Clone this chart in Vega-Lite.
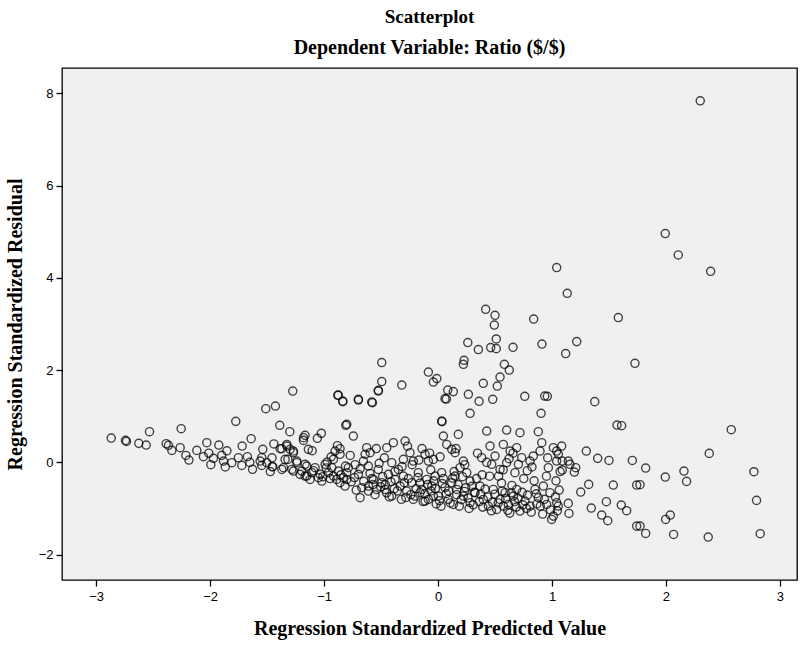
{
"$schema": "https://vega.github.io/schema/vega-lite/v6.json",
"autosize": {"type": "none"},
"padding": {"left": 62, "top": 68, "right": 10, "bottom": 68},
"width": 735,
"height": 512,
"background": "white",
"title": {"text": "Scatterplot", "subtitle": "Dependent Variable: Ratio ($/$)", "anchor": "middle", "font": "Liberation Serif", "fontSize": 19, "fontWeight": "bold", "color": "#000", "subtitleFont": "Liberation Serif", "subtitleFontSize": 20, "subtitleFontWeight": "bold", "subtitleColor": "#000", "subtitlePadding": 11, "offset": 10},
"config": {"view": {"fill": "#f0f0f0", "stroke": "#000", "strokeWidth": 1.3}},
"data": {"values": [
{"x":2.301,"y":7.838},{"x":1.994,"y":4.961},{"x":2.108,"y":4.497},{"x":2.392,"y":4.143},{"x":1.041,"y":4.223},{"x":1.134,"y":3.666},
{"x":0.418,"y":3.319},{"x":0.5,"y":3.189},{"x":0.494,"y":2.978},{"x":0.839,"y":3.108},{"x":1.582,"y":3.139},{"x":0.511,"y":2.675},
{"x":0.261,"y":2.597},{"x":0.354,"y":2.445},{"x":0.462,"y":2.488},{"x":0.511,"y":2.466},{"x":0.658,"y":2.495},{"x":0.912,"y":2.566},
{"x":1.217,"y":2.618},{"x":1.12,"y":2.358},{"x":1.728,"y":2.148},{"x":0.228,"y":2.213},{"x":0.222,"y":2.126},{"x":0.582,"y":2.126},
{"x":0.625,"y":2.002},{"x":0.544,"y":1.85},{"x":0.52,"y":1.655},{"x":0.397,"y":1.714},{"x":-0.085,"y":1.959},{"x":-0.011,"y":1.816},
{"x":-0.041,"y":1.742},{"x":0.085,"y":1.568},{"x":0.134,"y":1.534},{"x":0.073,"y":1.373},{"x":0.266,"y":1.475},{"x":0.36,"y":1.323},
{"x":0.48,"y":1.367},{"x":0.761,"y":1.432},{"x":0.936,"y":1.438},{"x":0.959,"y":1.432},{"x":1.375,"y":1.317},{"x":-0.318,"y":1.677},
{"x":-0.494,"y":2.163},{"x":-0.494,"y":1.751},{"x":-0.524,"y":1.562},{"x":0.032,"y":0.896},{"x":-0.875,"y":1.46},{"x":-0.836,"y":1.33},
{"x":-0.699,"y":1.367},{"x":-0.582,"y":1.308},{"x":-0.801,"y":0.824},
{"x":2.573,"y":0.709},{"x":2.38,"y":0.195},{"x":1.822,"y":-0.123},{"x":1.994,"y":-0.318},{"x":2.158,"y":-0.188},{"x":2.181,"y":-0.412},
{"x":2.772,"y":-0.203},{"x":2.795,"y":-0.824},{"x":1.772,"y":-0.484},{"x":2.038,"y":-1.143},{"x":1.997,"y":-1.236},{"x":1.822,"y":-1.54},
{"x":2.067,"y":-1.562},{"x":2.371,"y":-1.619},{"x":2.827,"y":-1.547},{"x":1.772,"y":-1.38},
{"x":1.57,"y":0.81},{"x":1.611,"y":0.795},{"x":1.085,"y":0.354},{"x":1.041,"y":0.245},{"x":1.301,"y":0.245},{"x":1.401,"y":0.087},
{"x":1.5,"y":0.043},{"x":1.705,"y":0.043},{"x":1.143,"y":0.028},{"x":1.09,"y":0.03},{"x":1.158,"y":-0.043},{"x":1.208,"y":-0.115},
{"x":1.196,"y":-0.21},{"x":1.09,"y":-0.167},{"x":1.322,"y":-0.477},{"x":1.252,"y":-0.644},{"x":1.538,"y":-0.492},{"x":1.743,"y":-0.492},
{"x":1.477,"y":-0.853},{"x":1.608,"y":-0.926},{"x":1.655,"y":-1.048},{"x":1.345,"y":-0.991},{"x":1.436,"y":-1.143},{"x":1.489,"y":-1.265},
{"x":1.143,"y":-0.889},{"x":1.149,"y":-1.106},{"x":1.055,"y":-0.948},{"x":1.743,"y":-1.382},{"x":1.035,"y":-0.4},{"x":1.03,"y":-0.75},
{"x":-2.868,"y":0.527},{"x":-2.743,"y":0.477},{"x":-2.734,"y":0.455},{"x":-2.626,"y":0.412},{"x":-2.561,"y":0.375},{"x":-2.532,"y":0.666},
{"x":-2.386,"y":0.405},{"x":-2.366,"y":0.369},{"x":-2.336,"y":0.26},{"x":-2.263,"y":0.318},{"x":-2.254,"y":0.731},{"x":-2.117,"y":0.26},
{"x":-2.059,"y":0.123},{"x":-2.029,"y":0.427},{"x":-1.971,"y":0.087},{"x":-1.924,"y":0.375},{"x":-1.898,"y":0.152},{"x":-1.883,"y":0.028},
{"x":-1.81,"y":-0.007},{"x":-1.775,"y":0.889},{"x":-1.752,"y":0.102},{"x":-1.719,"y":0.354},{"x":-1.722,"y":-0.065},{"x":-1.673,"y":0.123},
{"x":-1.64,"y":0.514},{"x":-1.538,"y":0.282},{"x":-1.561,"y":0.028},{"x":-1.547,"y":-0.065},{"x":-1.503,"y":-0.007},{"x":-1.512,"y":1.165},
{"x":-1.427,"y":1.221},{"x":-1.275,"y":1.547},{"x":-1.389,"y":0.803},{"x":-1.301,"y":0.666},{"x":-1.456,"y":-0.094},{"x":-1.386,"y":0.297},
{"x":-1.327,"y":0.354},{"x":-1.318,"y":0.065},{"x":-1.269,"y":0.245},{"x":-1.239,"y":0.028},{"x":-1.371,"y":-0.152},{"x":-1.269,"y":-0.188},
{"x":-1.211,"y":-0.26},{"x":-1.152,"y":-0.297},{"x":-1.181,"y":0.536},{"x":-1.167,"y":-0.043},{"x":-1.138,"y":0.282},
{"x":-0.88,"y":1.453},{"x":-0.836,"y":1.317},{"x":-0.81,"y":0.803},{"x":-1.167,"y":0.586},{"x":-1.181,"y":0.477},{"x":-1.059,"y":0.521},
{"x":-1.024,"y":0.629},{"x":-1.105,"y":0.253},{"x":-0.883,"y":0.362},{"x":-0.904,"y":0.245},{"x":-0.86,"y":0.297},{"x":-1.547,"y":0.102},
{"x":-1.45,"y":-0.094},{"x":-1.371,"y":0.297},{"x":-1.327,"y":0.39},{"x":-1.298,"y":0.282},{"x":-1.269,"y":0.21},{"x":-1.342,"y":0.065},
{"x":-1.357,"y":-0.115},{"x":-1.283,"y":-0.152},{"x":-1.239,"y":-0.007},{"x":-1.196,"y":-0.188},{"x":-1.152,"y":-0.079},{"x":-1.167,"y":-0.297},
{"x":-1.108,"y":-0.224},{"x":-1.123,"y":-0.369},{"x":-1.079,"y":-0.115},{"x":-1.05,"y":-0.332},{"x":-1.02,"y":-0.405},{"x":-1.035,"y":-0.26},
{"x":-0.991,"y":-0.043},{"x":-0.962,"y":-0.224},{"x":-0.932,"y":-0.115},{"x":-0.918,"y":-0.297},{"x":-0.875,"y":-0.188},{"x":-0.889,"y":-0.369},
{"x":-0.86,"y":-0.441},{"x":-0.831,"y":-0.332},{"x":-0.816,"y":-0.513},{"x":-0.801,"y":-0.224},{"x":-0.918,"y":0.065},{"x":-0.86,"y":0.174},
{"x":-0.699,"y":1.351},{"x":-0.576,"y":1.295},{"x":-0.743,"y":0.571},{"x":-0.524,"y":1.547},{"x":0.035,"y":0.883},{"x":0.061,"y":1.382},
{"x":0.047,"y":0.571},{"x":0.076,"y":0.39},{"x":0.12,"y":0.282},{"x":0.149,"y":0.21},
{"x":-0.626,"y":0.318},{"x":-0.596,"y":0.21},{"x":-0.64,"y":0.174},{"x":-0.655,"y":0.028},{"x":-0.611,"y":-0.079},
{"x":-0.45,"y":0.318},{"x":-0.392,"y":0.427},{"x":-0.289,"y":0.462},{"x":-0.406,"y":-0.007},{"x":-0.348,"y":-0.152},{"x":-0.246,"y":0.21},
{"x":-0.304,"y":0.065},{"x":-0.217,"y":0.028},{"x":-0.114,"y":0.174},{"x":-0.085,"y":0.028},{"x":-0.041,"y":0.065},
{"x":-0.787,"y":-0.115},{"x":-0.801,"y":-0.369},{"x":-0.699,"y":-0.26},{"x":-0.669,"y":-0.549},{"x":-0.611,"y":-0.513},{"x":-0.567,"y":-0.369},
{"x":-0.524,"y":-0.152},{"x":-0.494,"y":-0.441},{"x":-0.465,"y":-0.586},{"x":-0.436,"y":-0.26},{"x":-0.684,"y":-0.766},{"x":-0.611,"y":-0.622},
{"x":-0.538,"y":-0.586},{"x":-0.406,"y":-0.731},{"x":-0.377,"y":-0.369},{"x":-0.333,"y":-0.513},{"x":-0.304,"y":-0.297},{"x":-0.275,"y":-0.622},
{"x":-0.231,"y":-0.441},{"x":-0.202,"y":-0.731},{"x":-0.173,"y":-0.224},{"x":-0.143,"y":-0.586},{"x":-0.099,"y":-0.369},{"x":-0.085,"y":-0.803},
{"x":-0.055,"y":-0.513},{"x":-0.026,"y":-0.297},{"x":0.003,"y":-0.731},{"x":0.032,"y":-0.224},{"x":0.061,"y":-0.549},{"x":0.09,"y":-0.803},
{"x":0.12,"y":-0.441},{"x":0.134,"y":-0.911},{"x":-0.217,"y":-0.803},{"x":-0.158,"y":-0.658},{"x":-0.114,"y":-0.839},{"x":-0.041,"y":-0.731},
{"x":0.281,"y":1.063},{"x":0.904,"y":1.063},{"x":0.178,"y":0.607},{"x":0.427,"y":0.679},{"x":0.602,"y":0.701},{"x":0.719,"y":0.644},{"x":0.88,"y":0.666},
{"x":0.222,"y":0.028},{"x":0.193,"y":-0.115},{"x":0.149,"y":-0.297},{"x":0.252,"y":-0.224},{"x":0.281,"y":-0.405},
{"x":0.383,"y":0.102},{"x":0.456,"y":0.354},{"x":0.5,"y":0.137},{"x":0.573,"y":0.39},{"x":0.632,"y":0.245},{"x":0.69,"y":0.318},
{"x":0.734,"y":0.102},{"x":0.471,"y":-0.043},{"x":0.544,"y":-0.152},{"x":0.602,"y":-0.007},{"x":0.675,"y":-0.224},{"x":0.705,"y":-0.043},
{"x":0.807,"y":0.028},{"x":0.836,"y":0.137},{"x":0.91,"y":0.427},{"x":0.895,"y":0.245},{"x":0.968,"y":-0.115},{"x":1.012,"y":0.318},
{"x":1.056,"y":0.174},{"x":1.041,"y":0.028},
{"x":0.164,"y":-0.586},{"x":0.222,"y":-0.731},{"x":0.281,"y":-0.874},{"x":0.325,"y":-0.658},{"x":0.368,"y":-0.513},{"x":0.397,"y":-0.803},
{"x":0.441,"y":-0.948},{"x":0.485,"y":-0.586},{"x":0.515,"y":-1.02},{"x":0.544,"y":-0.803},{"x":0.588,"y":-0.658},{"x":0.617,"y":-0.911},
{"x":0.661,"y":-0.731},{"x":0.69,"y":-0.586},{"x":0.719,"y":-1.056},{"x":0.763,"y":-0.839},{"x":0.807,"y":-0.948},{"x":0.851,"y":-0.586},
{"x":0.88,"y":-0.766},{"x":0.924,"y":-0.513},{"x":0.953,"y":-0.911},{"x":0.982,"y":-0.658},{"x":1.012,"y":-1.165},{"x":1.041,"y":-0.874},
{"x":0.997,"y":-1.236},
{"x":-0.947,"y":-0.35},{"x":-0.973,"y":0.01},{"x":-0.938,"y":0.12},{"x":-0.762,"y":-0.42},{"x":-0.728,"y":-0.05},{"x":-0.771,"y":0.15},{"x":-0.718,"y":-0.6},
{"x":-0.553,"y":-0.7},{"x":-0.581,"y":-0.35},{"x":-0.517,"y":-0.02},{"x":-0.542,"y":0.3},{"x":-0.463,"y":-0.48},{"x":-0.428,"y":-0.75},{"x":-0.471,"y":0.1},
{"x":-0.357,"y":-0.62},{"x":-0.379,"y":-0.2},{"x":-0.322,"y":-0.8},{"x":-0.261,"y":-0.35},{"x":-0.239,"y":-0.7},{"x":-0.268,"y":0.35},{"x":-0.227,"y":-0.05},
{"x":-0.158,"y":-0.45},{"x":-0.131,"y":-0.85},{"x":-0.169,"y":0.05},{"x":-0.141,"y":0.3},{"x":-0.062,"y":-0.62},{"x":-0.038,"y":-0.4},{"x":-0.016,"y":-0.9},{"x":-0.074,"y":0.2},
{"x":0.047,"y":-0.35},{"x":0.072,"y":-0.68},{"x":0.026,"y":-0.95},{"x":0.018,"y":0.12},{"x":0.163,"y":-0.7},{"x":0.141,"y":-0.2},{"x":0.187,"y":-0.95},{"x":0.158,"y":0.3},
{"x":0.243,"y":-0.55},{"x":0.272,"y":-1.0},{"x":0.234,"y":-0.05},{"x":0.338,"y":-0.35},{"x":0.362,"y":-0.85},{"x":0.317,"y":-0.65},{"x":0.346,"y":0.2},
{"x":0.452,"y":-0.3},{"x":0.438,"y":-0.75},{"x":0.468,"y":-1.05},{"x":0.427,"y":0.0},{"x":0.557,"y":-0.45},{"x":0.573,"y":-0.95},{"x":0.531,"y":-0.3},
{"x":0.648,"y":-0.5},{"x":0.672,"y":-0.85},{"x":0.629,"y":-1.1},{"x":0.658,"y":0.2},{"x":0.752,"y":-0.35},{"x":0.738,"y":-0.65},{"x":0.776,"y":-1.0},
{"x":0.843,"y":-0.4},{"x":0.867,"y":-0.9},{"x":0.824,"y":-0.1},{"x":0.951,"y":-0.3},{"x":0.934,"y":-0.8},{"x":0.962,"y":0.1},
{"x":1.063,"y":-0.6},{"x":1.071,"y":-0.2},{"x":1.047,"y":-1.05},
{"x":-2.213,"y":0.15},{"x":-2.186,"y":0.05},{"x":-2.012,"y":0.2},{"x":-1.994,"y":-0.05},{"x":-1.853,"y":0.25},{"x":-1.867,"y":-0.1},
{"x":-1.652,"y":0.0},{"x":-1.628,"y":-0.15},{"x":-1.457,"y":0.1},{"x":-1.472,"y":-0.2},{"x":-1.441,"y":0.4},
{"x":-1.093,"y":-0.18},{"x":-1.011,"y":-0.31},{"x":-0.982,"y":-0.12},{"x":-0.853,"y":-0.27},{"x":-0.812,"y":-0.08},{"x":-0.733,"y":-0.33},
{"x":-0.684,"y":-0.14},{"x":-0.652,"y":-0.41},{"x":-0.597,"y":-0.24},{"x":-0.503,"y":-0.53},{"x":-0.486,"y":-0.31},{"x":-0.452,"y":-0.66},
{"x":-0.413,"y":-0.42},{"x":-0.384,"y":-0.57},{"x":-0.296,"y":-0.44},{"x":-0.283,"y":-0.76},{"x":-0.192,"y":-0.57},{"x":-0.176,"y":-0.33},
{"x":-0.117,"y":-0.68},{"x":-0.092,"y":-0.48},{"x":-0.023,"y":-0.57},{"x":0.012,"y":-0.83},{"x":0.038,"y":-0.46},{"x":0.093,"y":-0.62},
{"x":0.107,"y":-0.88},{"x":0.128,"y":-0.34},{"x":0.176,"y":-0.48},{"x":0.204,"y":-0.81},{"x":0.231,"y":-0.63},{"x":0.263,"y":-0.77},
{"x":0.297,"y":-0.52},{"x":0.309,"y":-0.92},{"x":0.374,"y":-0.69},{"x":0.392,"y":-0.97},{"x":0.413,"y":-0.58},{"x":0.476,"y":-0.86},
{"x":0.497,"y":-0.69},{"x":0.528,"y":-0.88},{"x":0.563,"y":-0.62},{"x":0.594,"y":-0.79},{"x":0.612,"y":-1.04},{"x":0.643,"y":-0.66},
{"x":0.687,"y":-0.97},{"x":0.702,"y":-0.78},{"x":0.743,"y":-0.92},{"x":0.784,"y":-0.71},{"x":0.818,"y":-1.08},{"x":0.862,"y":-0.68},
{"x":0.897,"y":-0.95},{"x":0.918,"y":-1.12},{"x":0.987,"y":-1.03},{"x":0.572,"y":-0.16},{"x":0.387,"y":-0.27},{"x":0.214,"y":-0.31},
{"x":-0.064,"y":-0.16},{"x":-0.316,"y":-0.09},{"x":-0.571,"y":-0.48},{"x":0.783,"y":-0.18},{"x":0.623,"y":0.08}
]},
"mark": {"type": "point", "shape": "circle", "filled": false, "size": 66, "stroke": "#000", "strokeWidth": 1.4, "opacity": 0.72},
"encoding": {
"x": {"field": "x", "type": "quantitative", "scale": {"domain": [-3.3, 3.15], "nice": false, "zero": false},
 "axis": {"values": [-3,-2,-1,0,1,2,3], "title": "Regression Standardized Predicted Value", "grid": false, "domain": false, "tickColor": "#000", "tickSize": 6, "tickWidth": 1.3, "labelFont": "Liberation Sans", "labelFontSize": 13, "labelColor": "#000", "labelPadding": 4, "titleFont": "Liberation Serif", "titleFontSize": 20, "titleFontWeight": "bold", "titleColor": "#000", "titlePadding": 15}},
"y": {"field": "y", "type": "quantitative", "scale": {"domain": [-2.55, 8.55], "nice": false, "zero": false},
 "axis": {"values": [-2,0,2,4,6,8], "title": "Regression Standardized Residual", "grid": false, "domain": false, "tickColor": "#000", "tickSize": 6, "tickWidth": 1.3, "labelFont": "Liberation Sans", "labelFontSize": 13, "labelColor": "#000", "labelPadding": 3, "titleFont": "Liberation Serif", "titleFontSize": 20, "titleFontWeight": "bold", "titleColor": "#000", "titlePadding": 13}}
}
}
